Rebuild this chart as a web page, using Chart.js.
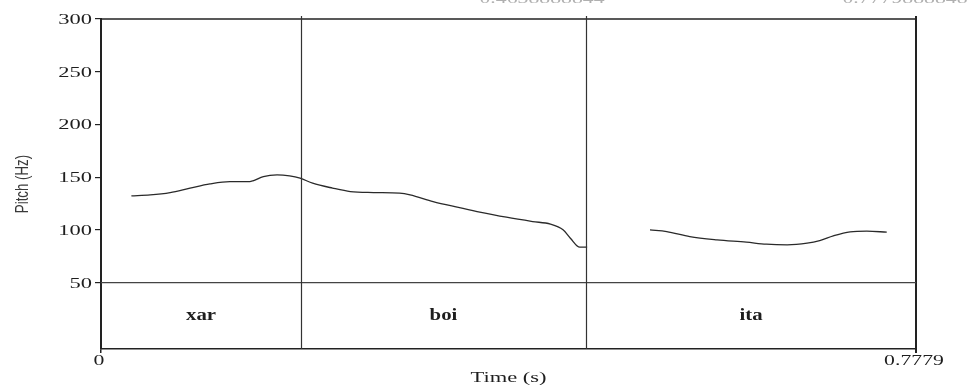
<!DOCTYPE html>
<html>
<head>
<meta charset="utf-8">
<script src="https://cdn.jsdelivr.net/npm/chart.js@4/dist/chart.umd.min.js"></script>
<style>
  html, body { margin: 0; padding: 0; background: #fff; }
  #c { display: block; }
</style>
</head>
<body>
<canvas id="c" width="968" height="385"></canvas>
<script>
// Pitch contour of the first voiced stretch ("xar" + "boi"), time in s, pitch in Hz
const contourATimes = [0.029, 0.047, 0.066, 0.085, 0.104, 0.123, 0.142, 0.145, 0.155, 0.168,
                       0.180, 0.190, 0.202, 0.221, 0.238, 0.260, 0.285, 0.295, 0.317, 0.340,
                       0.359, 0.387, 0.412, 0.429, 0.441, 0.448, 0.457, 0.464];
const contourAHz    = [132.3, 133.2, 135.4, 139.6, 143.6, 145.8, 145.8, 146.5, 150.6, 152.2,
                       151.2, 149.0, 144.3, 139.6, 136.3, 135.4, 134.8, 133.2, 126.8, 121.5,
                       117.4, 112.0, 107.9, 105.4, 100.0, 92.1, 83.6, 83.6];

// Pitch contour of the second voiced stretch ("ita")
const contourBTimes = [0.524, 0.540, 0.562, 0.588, 0.616, 0.635, 0.655, 0.674, 0.686, 0.699,
                       0.715, 0.731, 0.750];
const contourBHz    = [100.0, 98.4, 93.6, 90.5, 88.3, 86.4, 85.8, 87.4, 89.9, 94.3,
                       98.1, 98.8, 97.8];

// Text tier: interval boundaries and their labels
const boundaryTimes = [0.1909, 0.4629];
const tierLabels = ['xar', 'boi', 'ita'];

// Axes
const totalDuration = 0.7779;
const yTickValues = [50, 100, 150, 200, 250, 300];
const xTickValues = [0, 0.7779];
const xTickLabels = ['0', '0.7779'];
const tierLineHz = 50;
const headerTexts = ['0.4638888844', '0.7779888848'];

const SERIF = '"Liberation Serif", "Times New Roman", serif';
const SANS = '"Liberation Sans", Arial, sans-serif';

function drawStretched(ctx, text, x, y, sx, align, baseline) {
  ctx.save();
  ctx.translate(x, y);
  ctx.scale(sx, 1);
  ctx.textAlign = align;
  ctx.textBaseline = baseline;
  ctx.fillText(text, 0, 0);
  ctx.restore();
}

const praatFrame = {
  id: 'praatFrame',
  afterDraw(chart) {
    const ctx = chart.ctx;
    const a = chart.chartArea;
    const xs = chart.scales.x, ys = chart.scales.y;
    ctx.save();

    // top and right edges of the frame
    ctx.strokeStyle = '#222';
    ctx.lineWidth = 1.5;
    ctx.beginPath();
    ctx.moveTo(a.left, a.top);
    ctx.lineTo(a.right, a.top);
    ctx.stroke();
    ctx.lineWidth = 2;
    ctx.beginPath();
    ctx.moveTo(a.right, a.top - 3);
    ctx.lineTo(a.right, a.bottom + 4);
    ctx.stroke();

    // separator between pitch area and text tier
    const y50 = ys.getPixelForValue(tierLineHz);
    ctx.strokeStyle = '#444';
    ctx.lineWidth = 1.2;
    ctx.beginPath();
    ctx.moveTo(a.left, y50);
    ctx.lineTo(a.right, y50);
    ctx.stroke();

    // interval boundaries
    ctx.strokeStyle = '#333';
    ctx.lineWidth = 1.2;
    boundaryTimes.forEach(t => {
      const x = Math.round(xs.getPixelForValue(t)) + 0.5;
      ctx.beginPath();
      ctx.moveTo(x, a.top - 3);
      ctx.lineTo(x, a.bottom);
      ctx.stroke();
    });

    // interval labels
    const edges = [0, ...boundaryTimes, totalDuration];
    const yLab = (y50 + a.bottom) / 2;
    ctx.fillStyle = '#1e1e1e';
    ctx.font = 'bold 16px ' + SERIF;
    tierLabels.forEach((lab, i) => {
      const x = xs.getPixelForValue((edges[i] + edges[i + 1]) / 2);
      drawStretched(ctx, lab, x, yLab, 1.3, 'center', 'middle');
    });

    // y tick labels
    ctx.font = '15px ' + SERIF;
    ctx.fillStyle = '#1e1e1e';
    yTickValues.forEach(v => {
      drawStretched(ctx, String(v), a.left - 9, ys.getPixelForValue(v) + 1, 1.5, 'right', 'middle');
    });

    // x tick labels
    xTickValues.forEach((v, i) => {
      drawStretched(ctx, xTickLabels[i], xs.getPixelForValue(v) - 2, a.bottom + 12, 1.45, 'center', 'middle');
    });

    // x axis title
    drawStretched(ctx, 'Time (s)', (a.left + a.right) / 2, 382, 1.5, 'center', 'alphabetic');

    // y axis title
    ctx.save();
    ctx.translate(28, 184);
    ctx.rotate(-Math.PI / 2);
    ctx.fillStyle = '#3a3a3a';
    ctx.font = '19px ' + SANS;
    drawStretched(ctx, 'Pitch (Hz)', 0, 0, 0.7, 'center', 'alphabetic');
    ctx.restore();

    // boundary time readouts along the top edge, mostly cut off by the page edge
    ctx.fillStyle = '#b0b0b0';
    ctx.font = '15px ' + SERIF;
    drawStretched(ctx, headerTexts[0], 542, 3, 1.45, 'center', 'alphabetic');
    drawStretched(ctx, headerTexts[1], 905, 3, 1.45, 'center', 'alphabetic');

    ctx.restore();
  }
};

const toPoints = (ts, vs) => ts.map((t, i) => ({ x: t, y: vs[i] }));

const lineStyle = {
  borderColor: '#2a2a2a',
  borderWidth: 1.3,
  pointRadius: 0,
  fill: false,
  cubicInterpolationMode: 'monotone'
};

new Chart(document.getElementById('c'), {
  type: 'line',
  data: {
    datasets: [
      Object.assign({ label: 'F0 (xar boi)', data: toPoints(contourATimes, contourAHz) }, lineStyle),
      Object.assign({ label: 'F0 (ita)', data: toPoints(contourBTimes, contourBHz) }, lineStyle)
    ]
  },
  options: {
    responsive: false,
    animation: false,
    devicePixelRatio: 1,
    layout: { padding: { top: 19, right: 52, left: 0, bottom: 0 } },
    plugins: { legend: { display: false }, tooltip: { enabled: false } },
    scales: {
      x: {
        type: 'linear',
        min: 0,
        max: totalDuration,
        afterBuildTicks: s => { s.ticks = xTickValues.map(v => ({ value: v })); },
        afterFit: s => { s.height = 36; },
        ticks: { display: false },
        grid: { drawOnChartArea: false, drawTicks: true, tickLength: 4, color: '#222', lineWidth: 1.5 },
        border: { color: '#222', width: 1.5 }
      },
      y: {
        min: -13,
        max: 300,
        afterBuildTicks: s => { s.ticks = yTickValues.map(v => ({ value: v })); },
        afterFit: s => { s.width = 101; },
        ticks: { display: false },
        grid: { drawOnChartArea: false, drawTicks: true, tickLength: 6, color: '#222', lineWidth: 1.2 },
        border: { color: '#222', width: 2 }
      }
    }
  },
  plugins: [praatFrame]
});
</script>
</body>
</html>
